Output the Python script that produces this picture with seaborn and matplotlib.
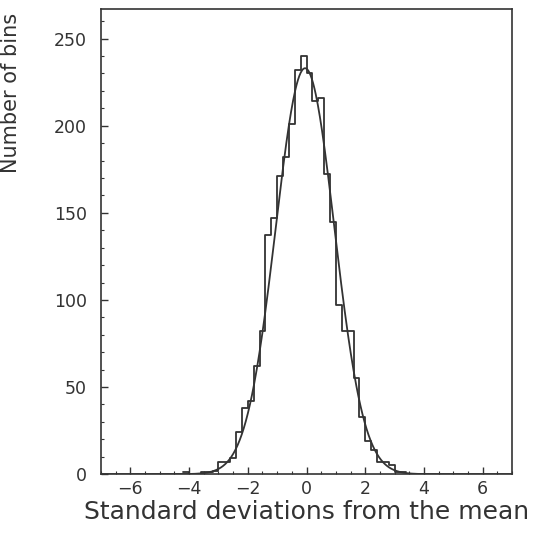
import matplotlib
matplotlib.use("Agg")
import matplotlib.pyplot as plt
from matplotlib.ticker import MultipleLocator
import numpy as np
import pandas as pd
import seaborn as sns

# histogram: left edge of each 0.2-wide bin and its count
bin_width = 0.2
bin_left = [-4.2, -4.0, -3.8, -3.6, -3.4, -3.2, -3.0, -2.8, -2.6, -2.4,
            -2.2, -2.0, -1.8, -1.6, -1.4, -1.2, -1.0, -0.8, -0.6, -0.4,
            -0.2, 0.0, 0.2, 0.4, 0.6, 0.8, 1.0, 1.2, 1.4, 1.6,
            1.8, 2.0, 2.2, 2.4, 2.6, 2.8, 3.0, 3.2]
counts = [1, 0, 0, 1, 1, 2, 7, 7, 9, 24,
          38, 42, 62, 82, 137, 147, 171, 182, 201, 232,
          240, 230, 214, 216, 172, 145, 97, 82, 82, 55,
          33, 19, 14, 7, 7, 5, 1, 1]

# fitted gaussian
fit_amp = 233.0
fit_mu = -0.05
fit_sigma = 1.0

sns.set_style("ticks")
plt.rcParams["font.family"] = ["DejaVu Sans"]

ink = "#333333"

df = pd.DataFrame({"x": np.array(bin_left) + bin_width / 2, "n": counts})
lo = bin_left[0]
hi = round(bin_left[-1] + bin_width, 1)

fig = plt.figure(figsize=(5.39, 5.45), dpi=100)
ax = fig.add_axes([0.1874, 0.130, 0.7626, 0.8535])

sns.histplot(data=df, x="x", weights="n", binwidth=bin_width, binrange=(lo, hi),
             element="step", fill=False, color=ink, linewidth=1.3, ax=ax)

xs = np.linspace(-7, 7, 600)
fit = pd.DataFrame({"x": xs,
                    "y": fit_amp * np.exp(-0.5 * ((xs - fit_mu) / fit_sigma) ** 2)})
sns.lineplot(data=fit, x="x", y="y", color=ink, linewidth=1.3, ax=ax)

ax.set_xlim(-7, 7)
ax.set_ylim(0, 267)
ax.xaxis.set_major_locator(MultipleLocator(2))
ax.xaxis.set_minor_locator(MultipleLocator(0.5))
ax.yaxis.set_major_locator(MultipleLocator(50))
ax.yaxis.set_minor_locator(MultipleLocator(10))
ax.tick_params(which="both", direction="in", colors=ink, labelsize=12.5)
ax.tick_params(which="major", length=5, width=1)
ax.tick_params(which="minor", length=2.5, width=0.8)
ax.tick_params(axis="y", which="major", pad=10)
ax.tick_params(axis="x", which="major", pad=4)

for s in ax.spines.values():
    s.set_color(ink)
    s.set_linewidth(1.2)

ax.set_xlabel("Standard deviations from the mean", fontsize=18, color=ink, labelpad=1.5)
ax.set_ylabel("Number of bins", fontsize=15, color=ink, labelpad=8)
ax.yaxis.set_label_coords(-0.195, 0.82)

fig.savefig("out.png", dpi=100)
